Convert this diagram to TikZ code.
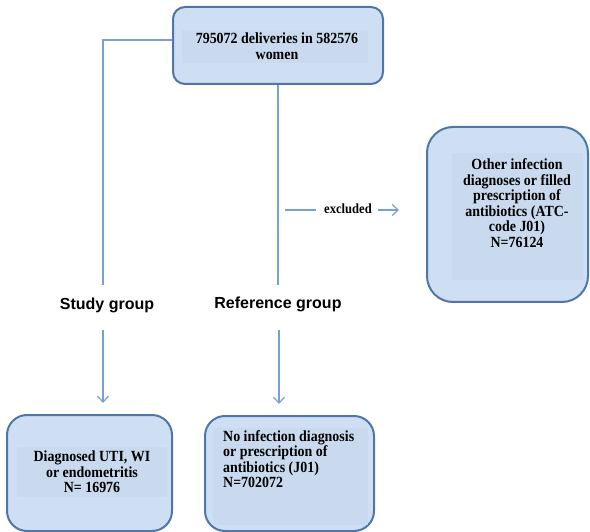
\documentclass[tikz,border=0pt]{standalone}
\usepackage{fontspec}
\setmainfont{Liberation Serif}
\newfontfamily\boxfont{Liberation Serif}[FakeStretch=0.9]
\newfontfamily\arialfont{Liberation Sans}
\usetikzlibrary{arrows.meta}
\definecolor{boxfill}{RGB}{207,223,243}
\definecolor{innerfill}{RGB}{202,218,238}
\definecolor{boxline}{RGB}{80,118,168}
\definecolor{conn}{RGB}{120,160,212}
\begin{document}
\begin{tikzpicture}[x=1pt,y=-1pt,
  flowbox/.style={draw=boxline, fill=boxfill, line width=2pt, rectangle, inner sep=0pt},
  conline/.style={draw=conn, line width=1.2pt},
  arr/.style={conline, -{Straight Barb[length=6pt,width=11pt]}},
  txt/.style={font=\boxfont\bfseries\fontsize{15.5}{15.5}\selectfont, inner sep=0pt},
  grp/.style={font=\arialfont\bfseries\fontsize{16}{18}\selectfont, inner sep=0pt}]
\useasboundingbox (0,0) rectangle (590,532);
\clip (0,0) rectangle (590,532);
% boxes
\node[flowbox, rounded corners=12pt, minimum width=210pt, minimum height=77pt] (top) at (278,45.5) {};
\fill[innerfill] (182,30) rectangle (368,63);
\node[txt, align=center] (toptxt) at (277,46) {795072 deliveries in 582576\\women};

\node[flowbox, rounded corners=26pt, minimum width=161pt, minimum height=175pt] (exbox) at (507.5,214.5) {};
\fill[innerfill] (452,153) rectangle (583,280);
\node[txt, align=center] (extxt) at (517,203) {Other infection\\diagnoses or filled\\prescription of\\antibiotics (ATC-\\code J01)\\N=76124};

\node[flowbox, rounded corners=20pt, minimum width=165pt, minimum height=116pt] (bl) at (89.5,473) {};
\fill[innerfill] (17,447) rectangle (167,497);
\node[txt, align=center] (bltxt) at (92,472) {Diagnosed UTI, WI\\or endometritis\\N= 16976};

\node[flowbox, rounded corners=20pt, minimum width=169pt, minimum height=115pt] (br) at (289.5,473.5) {};
\fill[innerfill] (213,428) rectangle (368,525);
\node[txt, align=left, anchor=north west] (brtxt) at (223,430) {No infection diagnosis\\or prescription of\\antibiotics (J01)\\N=702072};

% labels
\node[grp] (study) at (107,305) {Study group};
\node[grp] (ref) at (278,304) {Reference group};
\node[font=\boxfont\bfseries\fontsize{14}{15}\selectfont, inner sep=0pt] (excl) at (348,209) {excluded};

% connectors
\coordinate (lcorner) at (103,40);
\coordinate (lend) at (103,285);
\draw[conline] (lcorner -| top.west) -- (lcorner) -- (lend);
\coordinate (rend) at (278,285);
\draw[conline] (top.south) -- (rend);
\coordinate (sarr) at (103,330);
\draw[arr, shorten >=11pt] (sarr) -- (sarr |- bl.north);
\coordinate (rarr) at (279,330);
\draw[arr, shorten >=11pt] (rarr) -- (rarr |- br.north);
\coordinate (exstart) at (285,210);
\draw[conline, shorten >=8pt] (exstart) -- (exstart -| excl.west);
\coordinate (exarr) at (378,210);
\draw[arr, shorten >=27pt] (exarr) -- (exarr -| exbox.west);
\end{tikzpicture}
\end{document}
